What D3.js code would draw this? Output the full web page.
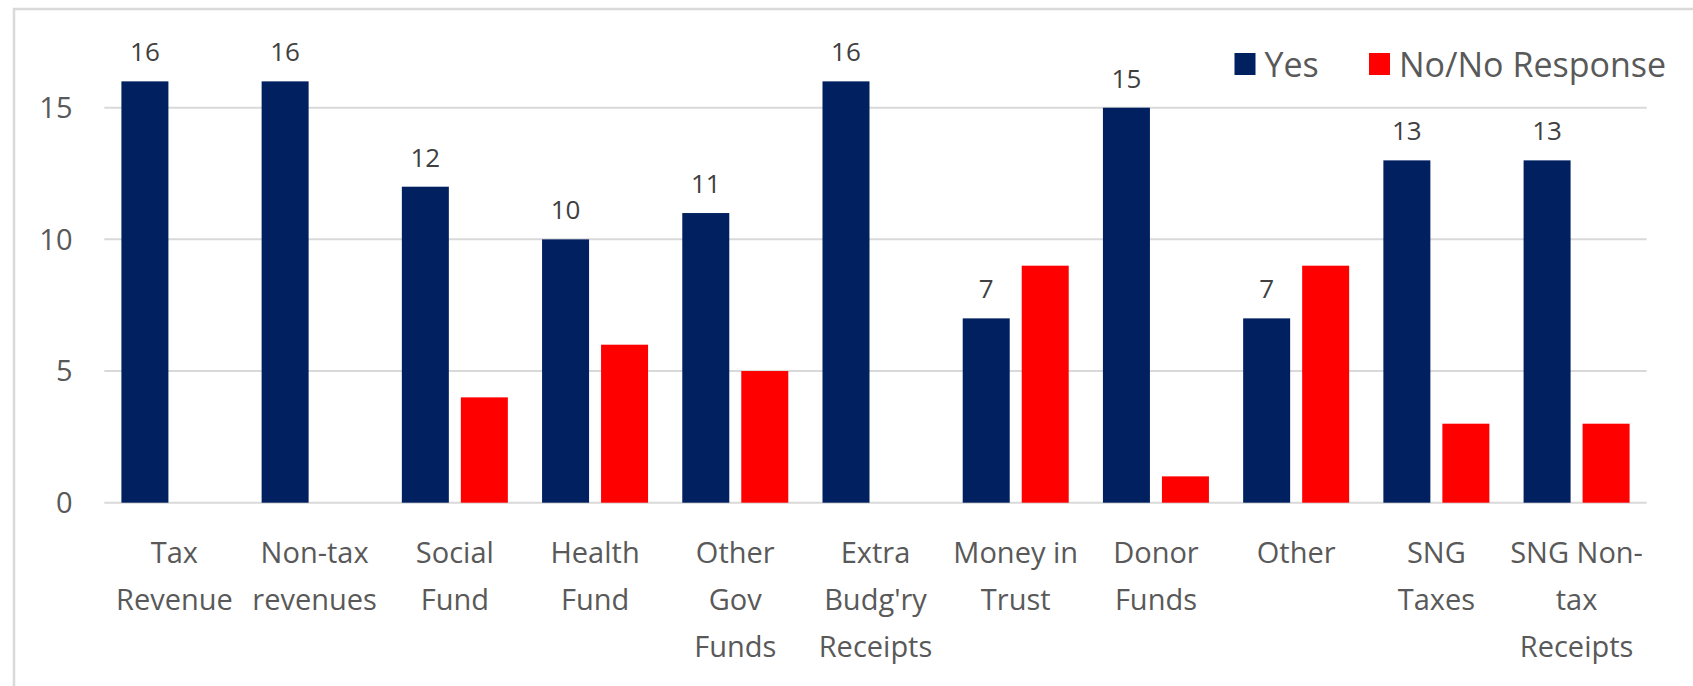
<!DOCTYPE html>
<html>
<head>
<meta charset="utf-8">
<script src="https://cdn.jsdelivr.net/npm/d3@7"></script>
<style>
  body { margin: 0; background: #ffffff; }
  svg { display: block; font-family: "Open Sans", sans-serif; }
</style>
</head>
<body>
<svg id="chart-id"></svg>
<script>

// chart data
const categories = [
  ["Tax", "Revenue"],
  ["Non-tax", "revenues"],
  ["Social", "Fund"],
  ["Health", "Fund"],
  ["Other", "Gov", "Funds"],
  ["Extra", "Budg'ry", "Receipts"],
  ["Money in", "Trust"],
  ["Donor", "Funds"],
  ["Other"],
  ["SNG", "Taxes"],
  ["SNG Non-", "tax", "Receipts"]
];
const yesValues = [16, 16, 12, 10, 11, 16, 7, 15, 7, 13, 13];
const noValues = [0, 0, 4, 6, 5, 0, 9, 1, 9, 3, 3];
const seriesNames = ["Yes", "No/No Response"];
const seriesColors = ["#002060", "#ff0000"];
const yTicks = [0, 5, 10, 15];

const width = 1693;
const height = 686;

// plot area
const plot = {left: 104.3, right: 1646.7, top: 28.7, bottom: 502.7};

let svg = d3.select("#chart-id")
            .attr("width", width)
            .attr("height", height);

// outer chart border (runs off the right and bottom of the picture)
svg.append("rect")
   .attr("x", 14)
   .attr("y", 9)
   .attr("width", width + 20)
   .attr("height", height + 20)
   .attr("fill", "none")
   .attr("stroke", "#d9d9d9")
   .attr("stroke-width", 2.5);

// table for the grouped bars
let rows = categories.map((c, i) => ({
  key: i,
  label: c,
  values: [yesValues[i], noValues[i]]
}));

let x0 = d3.scaleBand()
           .domain(rows.map(d => d.key))
           .range([plot.left, plot.right])
           .paddingInner(0.244)
           .paddingOuter(0.122);

let x1 = d3.scaleBand()
           .domain([0, 1])
           .range([0, x0.bandwidth()])
           .paddingInner(0.2034);

let y = d3.scaleLinear()
          .domain([0, 18])
          .range([plot.bottom, plot.top]);

// gridlines
svg.append("g")
   .selectAll("line")
   .data(yTicks)
   .enter()
   .append("line")
   .attr("x1", plot.left)
   .attr("x2", plot.right)
   .attr("y1", d => y(d))
   .attr("y2", d => y(d))
   .attr("stroke", "#d9d9d9")
   .attr("stroke-width", 2);

// y tick labels
svg.append("g")
   .selectAll("text")
   .data(yTicks)
   .enter()
   .append("text")
   .attr("x", 72.5)
   .attr("y", d => y(d))
   .attr("dy", "0.36em")
   .attr("text-anchor", "end")
   .attr("font-size", 29)
   .attr("fill", "#595959")
   .text(d => d);

// bars
let groups = svg.append("g")
   .selectAll("g")
   .data(rows)
   .enter()
   .append("g")
   .attr("transform", d => "translate(" + x0(d.key) + ",0)");

groups.selectAll("rect")
   .data(d => d.values.map((v, s) => ({s: s, v: v})))
   .enter()
   .append("rect")
   .attr("x", d => x1(d.s))
   .attr("width", x1.bandwidth())
   .attr("y", d => y(d.v))
   .attr("height", d => plot.bottom - y(d.v))
   .attr("fill", d => seriesColors[d.s]);

// data labels on the Yes bars
groups.append("text")
   .attr("x", x1(0) + x1.bandwidth() / 2)
   .attr("y", d => y(d.values[0]) - 20)
   .attr("text-anchor", "middle")
   .attr("font-size", 26)
   .attr("fill", "#404040")
   .text(d => d.values[0]);

// x labels, wrapped the way the picture has them
let xlabels = svg.append("g")
   .selectAll("text")
   .data(rows)
   .enter()
   .append("text")
   .attr("text-anchor", "middle")
   .attr("font-size", 29)
   .attr("fill", "#595959");

xlabels.selectAll("tspan")
   .data(d => d.label.map(t => ({t: t, key: d.key})))
   .enter()
   .append("tspan")
   .attr("x", d => x0(d.key) + x0.bandwidth() / 2)
   .attr("y", (d, i) => 563 + i * 47)
   .text(d => d.t);

// legend
const legendX = [1234.5, 1369];
let legend = svg.append("g")
   .selectAll("g")
   .data(seriesNames)
   .enter()
   .append("g")
   .attr("transform", (d, i) => "translate(" + legendX[i] + ",53)");

legend.append("rect")
   .attr("width", 21)
   .attr("height", 22)
   .attr("fill", (d, i) => seriesColors[i]);

legend.append("text")
   .attr("x", 30)
   .attr("y", 24)
   .attr("font-size", 34)
   .attr("fill", "#595959")
   .text(d => d);

</script>
</body>
</html>
